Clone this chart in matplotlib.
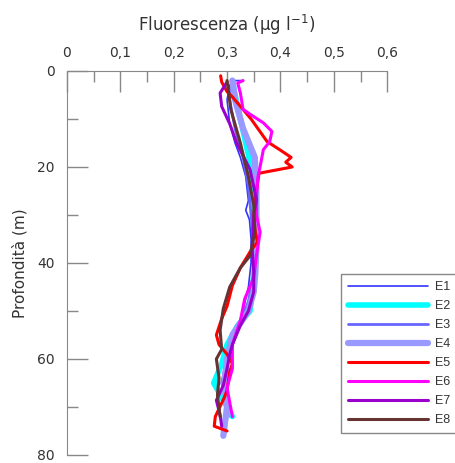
import numpy as np
import matplotlib
matplotlib.use("Agg")
import matplotlib.pyplot as plt
from matplotlib.ticker import FuncFormatter, MultipleLocator

# profiles: depth (m) and fluorescence (ug/l)
d_e1 = [2, 2, 3, 6, 11, 15, 18, 22, 27, 29, 31, 35, 40, 45, 50, 55, 60, 64, 68, 72]
v_e1 = [0.33, 0.31, 0.305, 0.30, 0.305, 0.315, 0.325, 0.335, 0.34, 0.335, 0.342, 0.345, 0.345,
        0.34, 0.33, 0.315, 0.29, 0.30, 0.293, 0.305]

d_e2 = [2, 5, 10, 15, 20, 25, 30, 35, 40, 45, 50, 53, 57, 61, 65, 68, 72]
v_e2 = [0.31, 0.315, 0.325, 0.335, 0.345, 0.347, 0.35, 0.353, 0.352, 0.348, 0.343, 0.32,
        0.30, 0.29, 0.275, 0.29, 0.31]

d_e3 = [2, 6, 12, 18, 24, 30, 36, 42, 48, 54, 60, 65, 70, 74]
v_e3 = [0.31, 0.305, 0.315, 0.33, 0.34, 0.345, 0.35, 0.35, 0.34, 0.32, 0.30, 0.29, 0.30, 0.295]

d_e4 = [2, 6, 12, 18, 25, 32, 37, 42, 46, 50, 55, 60, 65, 70, 76]
v_e4 = [0.31, 0.315, 0.33, 0.352, 0.355, 0.355, 0.355, 0.353, 0.35, 0.34, 0.31, 0.30, 0.295,
        0.30, 0.293]

d_e5 = [1, 2.3, 4.3, 5.4, 10, 14.7, 16.5, 18, 19, 20, 21.3, 25, 30, 33.6, 35.6, 37.7, 41,
        44.7, 49, 51.6, 55, 57, 59, 61, 62.6, 66.5, 68, 72, 74, 75]
v_e5 = [0.288, 0.29, 0.30, 0.31, 0.345, 0.375, 0.40, 0.42, 0.41, 0.422, 0.36, 0.355, 0.35,
        0.353, 0.357, 0.343, 0.325, 0.31, 0.30, 0.29, 0.28, 0.285, 0.30, 0.31, 0.305, 0.30,
        0.295, 0.278, 0.276, 0.30]

d_e6 = [2, 2.5, 4.6, 8, 9, 10.8, 12.6, 14.7, 16.4, 19.9, 22, 26, 30, 33.6, 38.5, 43, 47.5,
        52, 57, 62, 66, 69, 72]
v_e6 = [0.33, 0.32, 0.325, 0.33, 0.343, 0.368, 0.384, 0.38, 0.368, 0.362, 0.358, 0.355,
        0.355, 0.362, 0.355, 0.35, 0.333, 0.325, 0.31, 0.31, 0.30, 0.305, 0.31]

d_e7 = [2.3, 4.6, 7.4, 11, 15, 20.5, 26.7, 30, 37, 42, 46, 50, 53, 57, 59, 62, 65.5, 68.6,
        71.7, 74]
v_e7 = [0.30, 0.287, 0.29, 0.305, 0.318, 0.343, 0.355, 0.35, 0.347, 0.35, 0.35, 0.34,
        0.325, 0.31, 0.305, 0.30, 0.293, 0.28, 0.287, 0.29]

d_e8 = [2, 8, 15, 22, 28, 33.6, 38.5, 41, 45, 49.5, 54, 58, 60, 64, 67.5, 72]
v_e8 = [0.30, 0.307, 0.325, 0.34, 0.35, 0.352, 0.343, 0.325, 0.305, 0.293, 0.287, 0.29,
        0.28, 0.285, 0.282, 0.287]

labels = ["E1", "E2", "E3", "E4", "E5", "E6", "E7", "E8"]
depths = [d_e1, d_e2, d_e3, d_e4, d_e5, d_e6, d_e7, d_e8]
values = [v_e1, v_e2, v_e3, v_e4, v_e5, v_e6, v_e7, v_e8]
colors = ["#3333ff", "#00ffff", "#6666ff", "#9999ff", "#ff0000", "#ff00ff", "#9900cc", "#663333"]
widths = [1.2, 4.0, 2.0, 4.5, 2.2, 2.2, 2.2, 2.2]

fig = plt.figure(figsize=(4.55, 4.63), dpi=100)
ax = fig.add_axes([0.147, 0.0173, 0.704, 0.8294])

handles = []
for d, v, c, w, lab in zip(depths, values, colors, widths, labels):
    h, = ax.plot(v, d, color=c, lw=w, label=lab, solid_capstyle="round")
    handles.append(h)

ax.set_xlim(0, 0.6)
ax.set_ylim(80, 0)

grey = "#888888"
for s in ["right", "bottom"]:
    ax.spines[s].set_visible(False)
for s in ["top", "left"]:
    ax.spines[s].set_color(grey)

ax.xaxis.tick_top()
ax.xaxis.set_major_locator(MultipleLocator(0.1))
ax.xaxis.set_minor_locator(MultipleLocator(0.05))
ax.yaxis.set_major_locator(MultipleLocator(20))
ax.yaxis.set_minor_locator(MultipleLocator(10))
ax.xaxis.set_major_formatter(FuncFormatter(lambda x, p: ("%.1f" % x).replace(".", ",") if x > 0 else "0"))
ax.yaxis.set_major_formatter(FuncFormatter(lambda y, p: "%d" % y))

ax.tick_params(which="major", direction="in", length=15, color=grey, width=1,
               labelsize=10, labelcolor="#333333")
ax.tick_params(which="minor", direction="in", length=8, color=grey, width=1)
ax.tick_params(axis="x", which="both", top=True, bottom=False, pad=8)
ax.tick_params(axis="y", which="major", pad=9)

ax.set_xlabel("Fluorescenza (µg l$^{-1}$)", fontsize=12, color="#333333", labelpad=11)
ax.xaxis.set_label_position("top")
ax.set_ylabel("Profondità (m)", fontsize=11, color="#333333", labelpad=7)

leg = fig.legend(handles=handles, loc="upper left", bbox_to_anchor=(0.749, 0.408),
                 borderaxespad=0, frameon=True, fancybox=False, edgecolor=grey,
                 framealpha=1, prop={"family": "Liberation Sans", "size": 9},
                 handlelength=6.4, handletextpad=0.6, labelspacing=0.56, borderpad=0.55)
leg.get_frame().set_linewidth(1)
for t in leg.get_texts():
    t.set_color("#333333")

fig.savefig("out.png", dpi=100)
